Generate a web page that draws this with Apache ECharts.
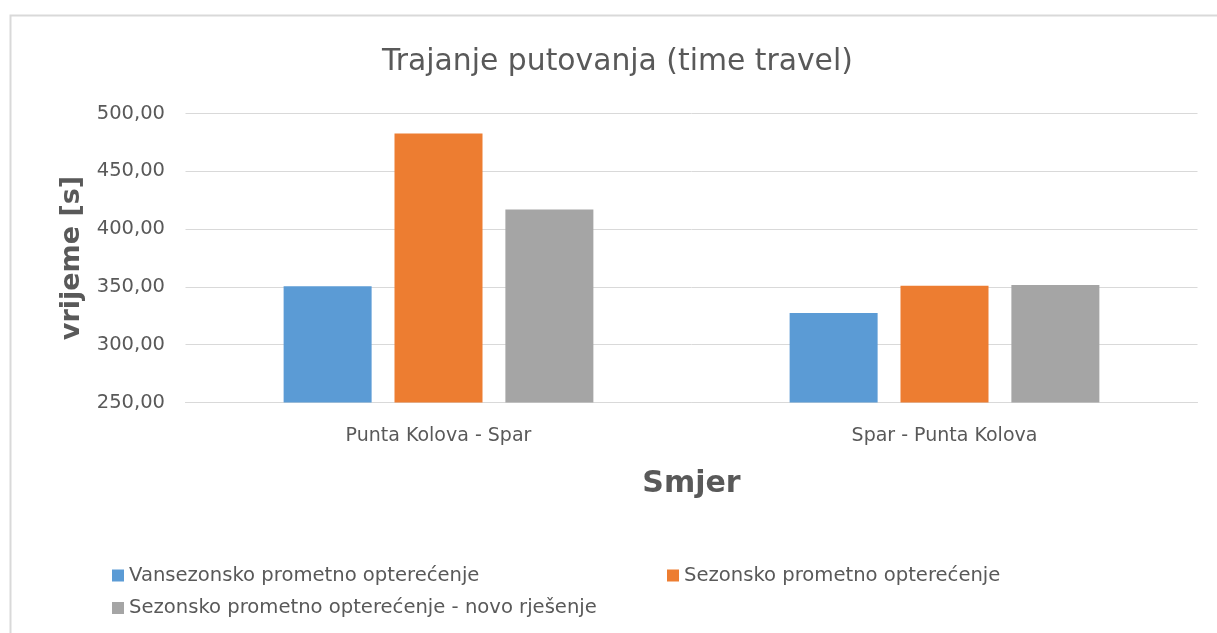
<!DOCTYPE html>
<html>
<head>
<meta charset="utf-8">
<script src="https://cdn.jsdelivr.net/npm/echarts@6/dist/echarts.min.js"></script>
<style>
html,body{margin:0;padding:0;background:#fff;}
#c{width:1217px;height:633px;}
</style>
</head>
<body>
<div id="c"></div>
<script>
var categories = ['Punta Kolova - Spar', 'Spar - Punta Kolova'];
var seriesNames = ['Vansezonsko prometno opterećenje', 'Sezonsko prometno opterećenje', 'Sezonsko prometno opterećenje - novo rješenje'];
var vansezonsko = [350.6, 327.5];
var sezonsko = [482.7, 350.9];
var novoRjesenje = [417.0, 351.7];
var yMin = 250, yMax = 500, yStep = 50;

var FONT = 'DejaVu Sans';
var TXT = '#595959';
var colors = ['#5B9BD5', '#ED7D31', '#A5A5A5'];

var chart = echarts.init(document.getElementById('c'), null, {renderer: 'canvas'});
function legendItem(name, left, top) {
  return {
    data: [name], left: left, top: top, orient: 'horizontal', padding: 0,
    icon: 'rect', itemWidth: 12, itemHeight: 12, itemGap: 0,
    textStyle: {color: TXT, fontFamily: FONT, fontSize: 19.6, lineHeight: 20},
    selectedMode: false
  };
}
chart.setOption({
  animation: false,
  color: colors,
  title: {
    text: 'Trajanje putovanja (time travel)',
    left: 377, top: 42,
    textStyle: {color: TXT, fontFamily: FONT, fontSize: 29.8, fontWeight: 'normal'}
  },
  graphic: [{
    type: 'rect', left: 8, top: 13,
    shape: {width: 1240, height: 640},
    style: {fill: 'none', stroke: '#D9D9D9', lineWidth: 2}, silent: true, z: -1
  }],
  legend: [
    legendItem(seriesNames[0], 112, 565.5),
    legendItem(seriesNames[1], 667, 565.5),
    legendItem(seriesNames[2], 112, 598)
  ],
  grid: {left: 185.5, right: 19.5, top: 113.5, bottom: 230.5, containLabel: false},
  xAxis: {
    type: 'category', data: categories,
    axisLine: {show: true, lineStyle: {color: '#D9D9D9'}},
    axisTick: {show: false},
    axisLabel: {color: TXT, fontFamily: FONT, fontSize: 19, margin: 24},
    name: 'Smjer', nameLocation: 'middle', nameGap: 67,
    nameTextStyle: {color: TXT, fontFamily: FONT, fontSize: 30, fontWeight: 'bold'}
  },
  yAxis: {
    type: 'value', min: yMin, max: yMax, interval: yStep,
    axisLine: {show: false}, axisTick: {show: false},
    splitLine: {lineStyle: {color: '#D9D9D9'}},
    axisLabel: {color: TXT, fontFamily: FONT, fontSize: 19.5, margin: 20.5,
      formatter: function(v){ return v.toFixed(2).replace('.', ','); }},
    name: 'vrijeme [s]', nameLocation: 'middle', nameGap: 100, nameRotate: 90,
    nameTextStyle: {color: TXT, fontFamily: FONT, fontSize: 27, fontWeight: 'bold'}
  },
  series: [
    {name: seriesNames[0], type: 'bar', data: vansezonsko, barWidth: 88, barGap: '26%'},
    {name: seriesNames[1], type: 'bar', data: sezonsko, barWidth: 88, barGap: '26%'},
    {name: seriesNames[2], type: 'bar', data: novoRjesenje, barWidth: 88, barGap: '26%'}
  ]
});
</script>
</body>
</html>
